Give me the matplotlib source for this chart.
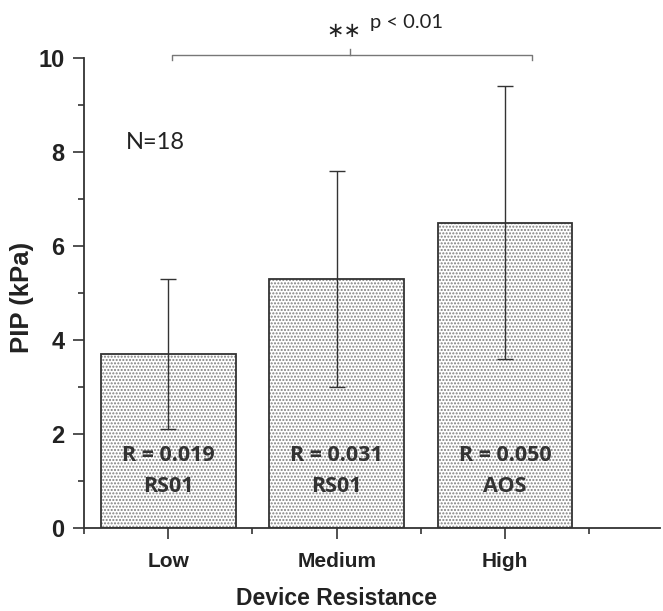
import matplotlib.pyplot as plt
import numpy as np

categories = ["Low", "Medium", "High"]
pip_mean = [3.7, 5.3, 6.5]
pip_err = [1.6, 2.3, 2.9]
r_labels = ["R = 0.019", "R = 0.031", "R = 0.050"]
device_labels = ["RS01", "RS01", "AOS"]

plt.rcParams["font.family"] = ["Liberation Sans"]
plt.rcParams["font.weight"] = "bold"

W, H = 663, 611
fig = plt.figure(figsize=(W / 100, H / 100), dpi=100)
ax = fig.add_axes([84 / W, 1 - 528 / H, (660 - 84) / W, (528 - 58) / H])

x = np.arange(len(categories))
# dotted fill, then the outline on top
ax.bar(x, pip_mean, width=0.8, color="white", edgecolor="#7f7f7f", hatch=".....", linewidth=0)
ax.bar(x, pip_mean, width=0.8, fill=False, edgecolor="#333333", linewidth=1.3)
ax.errorbar(x, pip_mean, yerr=pip_err, fmt="none", ecolor="#333333", elinewidth=1.0,
            capsize=5.5, capthick=1.0)

for xi, r, d in zip(x, r_labels, device_labels):
    ax.text(xi, 1.55, r, ha="center", va="center", fontsize=15.5, fontweight="bold",
            family="Open Sans", color="#333333")
    ax.text(xi, 0.88, d, ha="center", va="center", fontsize=15.5, fontweight="bold",
            family="Open Sans", color="#333333")

ax.set_xlim(-0.5, 2.92)
ax.set_ylim(0, 10)
ax.set_xticks(x)
ax.set_xticklabels(categories, fontsize=15, fontweight="bold", color="#222222")
ax.set_xticks([-0.5, 0.5, 1.5, 2.5], minor=True)
ax.set_yticks(np.arange(0, 11, 2))
ax.set_yticklabels([str(v) for v in range(0, 11, 2)], fontsize=17, fontweight="bold",
                   color="#222222")
ax.set_yticks(np.arange(1, 10, 2), minor=True)

ax.tick_params(which="major", length=8, width=1.2, color="#333333")
ax.tick_params(which="minor", length=4, width=1.2, color="#333333")
ax.tick_params(axis="x", which="major", pad=9)
ax.tick_params(axis="y", which="major", pad=6)

for s in ["top", "right"]:
    ax.spines[s].set_visible(False)
for s in ["left", "bottom"]:
    ax.spines[s].set_linewidth(1.3)
    ax.spines[s].set_color("#333333")

ax.set_xlabel("Device Resistance", fontsize=16.5, fontweight="bold", color="#222222")
ax.xaxis.set_label_coords(1.5 / 3.42, -0.125)
ax.set_ylabel("PIP (kPa)", fontsize=18.5, fontweight="bold", color="#222222")
ax.yaxis.set_label_coords(-0.087, 0.49)

ax.text(-0.25, 8.2, "N=18", fontsize=17, family="Lato", fontweight="normal",
        color="#222222", va="center")

# significance bracket
ax.plot([0.02, 0.02, 2.16, 2.16], [9.96, 10.06, 10.06, 9.96], color="#777777", lw=1.0,
        clip_on=False)
ax.plot([1.08, 1.08], [10.06, 10.19], color="#777777", lw=1.0, clip_on=False)
ax.text(1.04, 10.58, "∗∗", fontsize=15, ha="center", va="center", color="#222222",
        family="DejaVu Sans", fontweight="normal")
ax.text(1.2, 10.75, "p < 0.01", fontsize=14.5, ha="left", va="center", family="Lato",
        fontweight="normal", color="#222222")

fig.savefig("out.png", dpi=100)
